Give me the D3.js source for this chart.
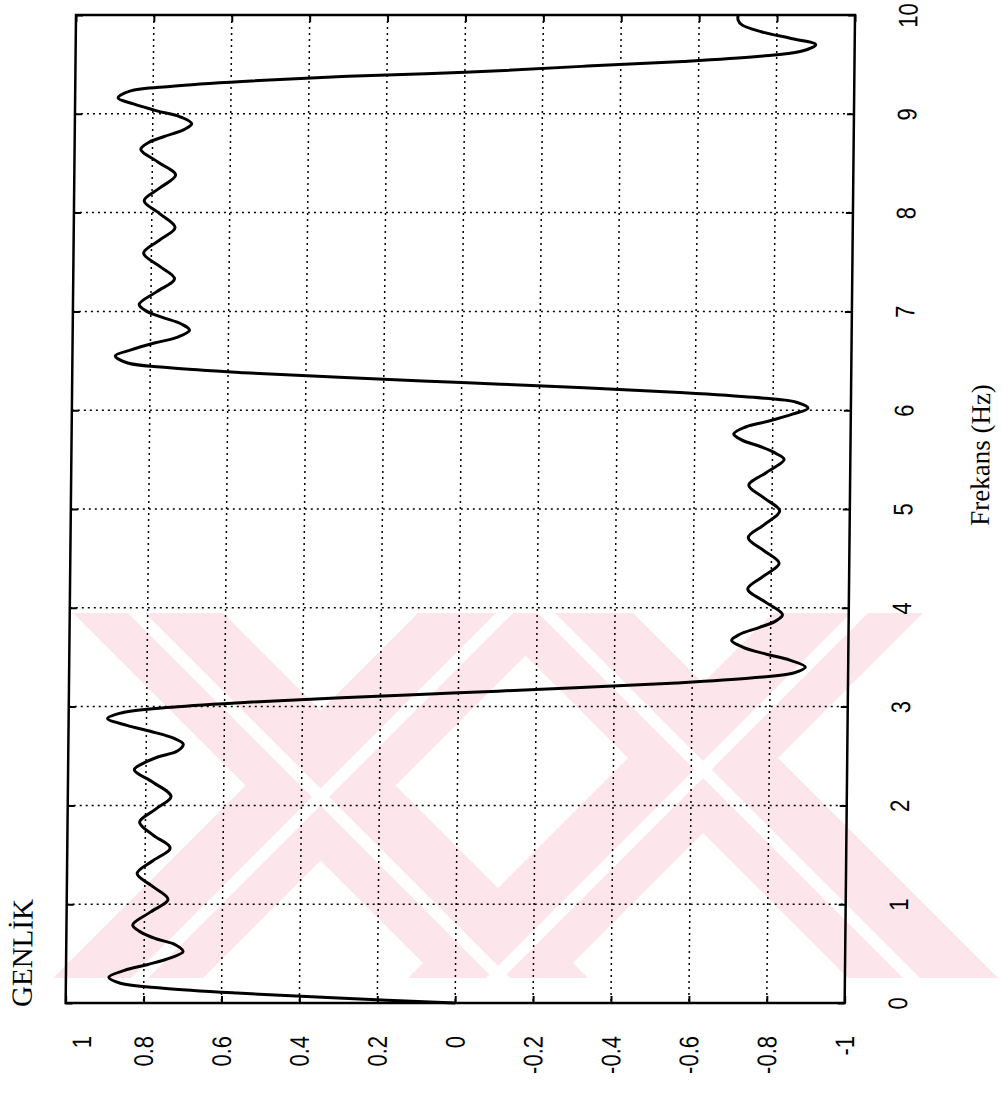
<!DOCTYPE html>
<html><head><meta charset="utf-8">
<script src="https://cdn.jsdelivr.net/npm/d3@7"></script>
<style>body{margin:0;background:#fff}svg{display:block}</style></head>
<body><svg id="c" width="1002" height="1097"></svg>
<script>
// ---- data ----
const freqTicks = [0,1,2,3,4,5,6,7,8,9,10];
const ampTicks = [1,0.8,0.6,0.4,0.2,0,-0.2,-0.4,-0.6,-0.8,-1];
const ampTickLabels = ["1","0.8","0.6","0.4","0.2","0","-0.2","-0.4","-0.6","-0.8","-1"];
const gridFreq = [1,2,3,4,5,6,7,8,9];
const gridAmp = [0.8,0.6,0.4,0.2,0,-0.2,-0.4,-0.6,-0.8];
const freq = [
 0,0.05,0.10,0.15,0.20,0.26,0.33,0.39,0.46,0.52,0.59,0.65,0.72,0.79,0.92,1.05,1.18,1.31,1.44,1.57,1.70,1.83,1.96,2.09,2.23,2.36,2.42,2.49,2.55,2.62,2.68,2.75,2.81,2.88,2.94,2.99,3.04,3.09,3.14,
 3.19,3.24,3.29,3.34,3.40,3.47,3.53,3.60,3.67,3.73,3.80,3.86,3.93,4.06,4.19,4.32,4.45,4.58,4.71,4.84,4.98,5.11,5.24,5.37,5.50,5.56,5.63,5.70,5.76,5.83,5.89,5.96,6.02,6.08,6.13,6.18,6.23,6.28,
 6.33,6.38,6.43,6.48,6.55,6.61,6.68,6.74,6.81,6.87,6.94,7.00,7.07,7.20,7.33,7.46,7.59,7.72,7.85,7.99,8.12,8.25,8.38,8.51,8.64,8.71,8.77,8.84,8.90,8.97,9.03,9.10,9.16,9.23,9.28,9.33,9.38,9.42,
 9.48,9.53,9.58,9.63,9.70,9.76,9.83,9.90,9.95,10.00];
const amp = [
 0,0.30,0.56,0.75,0.86,0.89,0.85,0.79,0.73,0.70,0.72,0.77,0.81,0.83,0.785,0.74,0.78,0.82,0.78,0.736,0.78,0.815,0.775,0.735,0.78,0.83,0.81,0.77,0.72,0.705,0.73,0.79,0.85,0.90,0.86,0.75,0.56,0.30,0,
 -0.30,-0.56,-0.75,-0.86,-0.89,-0.85,-0.79,-0.73,-0.70,-0.72,-0.77,-0.81,-0.83,-0.785,-0.74,-0.78,-0.82,-0.78,-0.74,-0.78,-0.82,-0.78,-0.74,-0.785,-0.83,-0.81,-0.77,-0.72,-0.70,-0.73,-0.79,-0.85,-0.89,-0.86,-0.75,-0.56,-0.30,0,
 0.30,0.56,0.75,0.86,0.89,0.85,0.79,0.73,0.70,0.72,0.77,0.81,0.83,0.785,0.74,0.78,0.82,0.78,0.74,0.78,0.82,0.78,0.74,0.785,0.83,0.81,0.77,0.72,0.70,0.73,0.79,0.85,0.89,0.86,0.75,0.56,0.30,0,
 -0.30,-0.56,-0.75,-0.86,-0.90,-0.84,-0.76,-0.71,-0.70,-0.70];
const xLabel = "Frekans (Hz)";
const yLabel = "GENLİK";

// ---- layout ----
const L = 76, R = 855, T = 15, B = 1003;
const svg = d3.select("#c");

// watermark (approximate page overlay)
const wmTop = 613, wmBot = 978;
svg.append("clipPath").attr("id","wmclip").append("rect")
  .attr("x",40).attr("y",wmTop).attr("width",962).attr("height",wmBot-wmTop);
const wm = svg.append("g").attr("clip-path","url(#wmclip)");
const down = (c1,c2) => `${c1+wmTop},${wmTop} ${c2+wmTop},${wmTop} ${c2+wmBot},${wmBot} ${c1+wmBot},${wmBot}`;
const up = (c1,c2) => `${c1-wmTop},${wmTop} ${c2-wmTop},${wmTop} ${c2-wmBot},${wmBot} ${c1-wmBot},${wmBot}`;
const downBands = [[-540,-390],[-130,20]];
const upBands = [[1031,1181],[1386,1536]];
downBands.forEach(([a,b]) => wm.append("polygon").attr("fill","#fde6eb").attr("points", down(a,b)));
upBands.forEach(([a,b]) => wm.append("polygon").attr("fill","#fde6eb").attr("points", up(a,b)));
downBands.forEach(([a,b]) => wm.append("polygon").attr("fill","#fff").attr("points", down(a+55,a+72)));
upBands.forEach(([a,b]) => wm.append("polygon").attr("fill","#fff").attr("points", up(b-72,b-55)));

const g = svg.append("g").attr("transform", `translate(0,${T}) skewX(-0.6) translate(0,${-T})`);

const fy = d3.scaleLinear().domain([0,10]).range([B,T]);
const ax = d3.scaleLinear().domain([1,-1]).range([L,R]);

// grid
const grid = g.append("g").attr("stroke","#000").attr("stroke-width",1.5).attr("stroke-dasharray","2,4");
grid.selectAll(".gf").data(gridFreq).join("line")
  .attr("x1",L).attr("x2",R).attr("y1",d=>fy(d)).attr("y2",d=>fy(d));
grid.selectAll(".ga").data(gridAmp).join("line")
  .attr("y1",T).attr("y2",B).attr("x1",d=>ax(d)).attr("x2",d=>ax(d));

// axes
const fmtAmp = d => ampTickLabels[ampTicks.indexOf(d)];
const fAxis = g.append("g").attr("transform",`translate(${R},0)`)
  .call(d3.axisRight(fy).tickValues(freqTicks).tickSizeInner(-7).tickSizeOuter(0).tickFormat(d3.format("d")));
const aAxis = g.append("g").attr("transform",`translate(0,${B})`)
  .call(d3.axisBottom(ax).tickValues(ampTicks).tickSizeInner(-7).tickSizeOuter(0).tickFormat(fmtAmp));
const fAxis2 = g.append("g").attr("transform",`translate(${L},0)`)
  .call(d3.axisLeft(fy).tickValues(freqTicks).tickSizeInner(-7).tickSizeOuter(0).tickFormat(""));
const aAxis2 = g.append("g").attr("transform",`translate(0,${T})`)
  .call(d3.axisTop(ax).tickValues(ampTicks).tickSizeInner(-7).tickSizeOuter(0).tickFormat(""));
[fAxis,aAxis,fAxis2,aAxis2].forEach(a => {
  a.select(".domain").remove();
  a.selectAll("line").attr("stroke","#000").attr("stroke-width",2);
});
fAxis.selectAll("text").attr("x",null).attr("y",null)
  .attr("transform","translate(53,0) rotate(-90) scale(1,1.22)")
  .attr("text-anchor","middle").attr("dy","0.35em")
  .attr("font-family","'Liberation Sans', Arial, sans-serif").attr("font-size",22).attr("fill","#000");
aAxis.selectAll("text").attr("x",null).attr("y",null)
  .attr("transform",d => `translate(${d === 1 ? 16 : 0},33) rotate(-90) scale(1,1.22)`)
  .attr("text-anchor","end").attr("dy","0.35em")
  .attr("font-family","'Liberation Sans', Arial, sans-serif").attr("font-size",22).attr("fill","#000");

// frame
g.append("rect").attr("x",L).attr("y",T).attr("width",R-L).attr("height",B-T)
  .attr("fill","none").attr("stroke","#000").attr("stroke-width",2.5);

// curve
const pts = freq.map((f,i)=>({f, a: amp[i]}));
g.append("path").datum(pts)
  .attr("fill","none").attr("stroke","#000").attr("stroke-width",3).attr("stroke-linejoin","round")
  .attr("d", d3.line().x(d=>ax(d.a)).y(d=>fy(d.f)).curve(d3.curveCatmullRom.alpha(0.5)));

// axis titles
g.append("text").attr("transform","translate(42,1007) rotate(-90)")
  .attr("text-anchor","start").attr("font-family","'Liberation Serif', 'Times New Roman', serif")
  .attr("font-size",29).attr("fill","#000").text(yLabel);
g.append("text").attr("transform","translate(994,455) rotate(-90)")
  .attr("text-anchor","middle").attr("font-family","'Liberation Serif', 'Times New Roman', serif")
  .attr("font-size",27).attr("fill","#000").text(xLabel);
</script></body></html>
